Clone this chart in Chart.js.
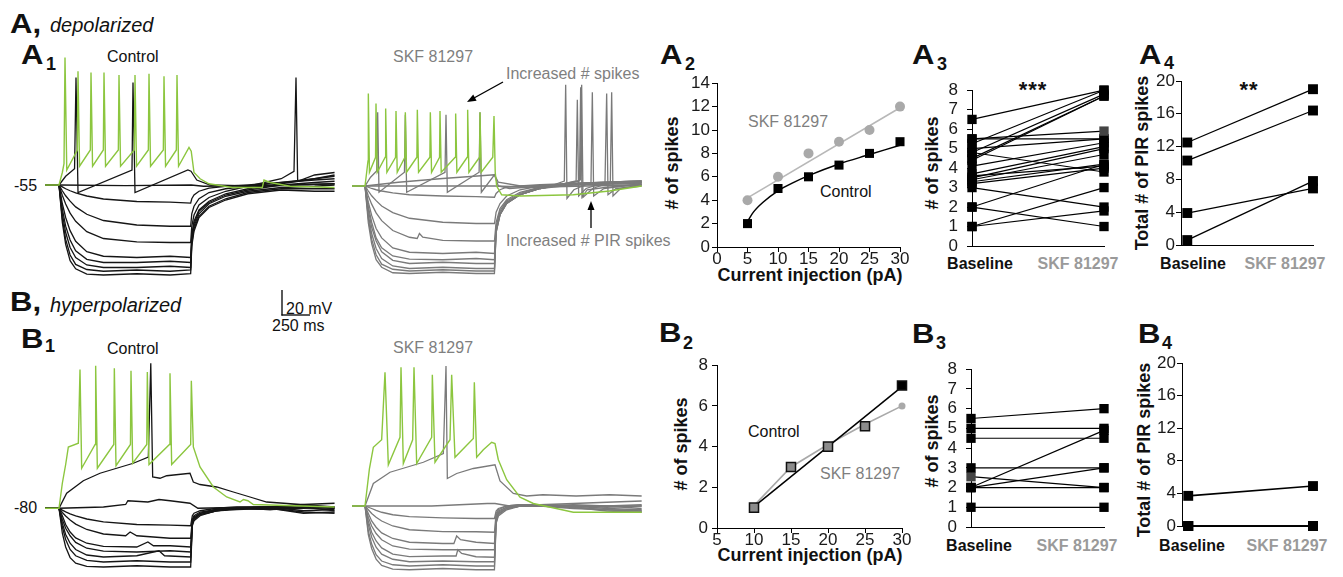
<!DOCTYPE html>
<html><head><meta charset="utf-8">
<script src="https://cdn.jsdelivr.net/npm/chart.js@4.4.0/dist/chart.umd.min.js"></script>
<style>
html,body{margin:0;padding:0;background:#fff;}
body{width:1343px;height:577px;position:relative;overflow:hidden;font-family:"Liberation Sans",Arial,sans-serif;}
.t{position:absolute;white-space:nowrap;line-height:1;color:#111;}
.b{font-weight:bold;}
.L{font-weight:bold;font-size:27px;transform:scaleX(1.15);transform-origin:0 0;}
.i{font-style:italic;}
.g{color:#7f7f7f;}
.gb{color:#9a9a9a;font-weight:bold;}
.c{transform:translateX(-50%);}
.r{transform:translate(-50%,-50%) rotate(-90deg);font-weight:bold;font-size:18px;}
canvas{position:absolute;}
svg{position:absolute;left:0;top:0;}
</style></head><body>

<div class="t L" style="left:10px;top:11px;">A,</div>
<div class="t i" style="left:50px;top:15px;font-size:20px;">depolarized</div>
<div class="t L" style="left:21px;top:42px;">A</div><div class="t b" style="left:46px;top:55px;font-size:18px;">1</div>
<div class="t" style="left:107px;top:49px;font-size:16px;">Control</div>
<div class="t g" style="left:393px;top:49px;font-size:16px;">SKF 81297</div>
<div class="t g" style="left:506px;top:66px;font-size:16px;">Increased # spikes</div>
<div class="t g" style="left:506px;top:233px;font-size:16px;">Increased # PIR spikes</div>
<div class="t" style="left:14px;top:178px;font-size:16px;">-55</div>

<div class="t L" style="left:10px;top:289px;">B,</div>
<div class="t i" style="left:50px;top:295px;font-size:20px;">hyperpolarized</div>
<div class="t L" style="left:21px;top:326px;">B</div><div class="t b" style="left:45px;top:337px;font-size:18px;">1</div>
<div class="t" style="left:107px;top:341px;font-size:16px;">Control</div>
<div class="t g" style="left:393px;top:340px;font-size:16px;">SKF 81297</div>
<div class="t" style="left:14px;top:500px;font-size:16px;">-80</div>
<div class="t" style="left:286px;top:301px;font-size:16px;">20 mV</div>
<div class="t" style="left:272px;top:318px;font-size:16px;">250 ms</div>

<div class="t L" style="left:660px;top:42px;">A</div><div class="t b" style="left:685px;top:55px;font-size:18px;">2</div>
<div class="t L" style="left:912px;top:42px;">A</div><div class="t b" style="left:937px;top:55px;font-size:18px;">3</div>
<div class="t L" style="left:1139px;top:42px;">A</div><div class="t b" style="left:1164px;top:54px;font-size:18px;">4</div>
<div class="t L" style="left:659px;top:320px;">B</div><div class="t b" style="left:683px;top:334px;font-size:18px;">2</div>
<div class="t L" style="left:912px;top:321px;">B</div><div class="t b" style="left:936px;top:334px;font-size:18px;">3</div>
<div class="t L" style="left:1138px;top:321px;">B</div><div class="t b" style="left:1162px;top:334px;font-size:18px;">4</div>

<div class="t g" style="left:748px;top:114px;font-size:16px;">SKF 81297</div>
<div class="t" style="left:820px;top:184px;font-size:16px;">Control</div>
<div class="t" style="left:748px;top:424px;font-size:16px;">Control</div>
<div class="t g" style="left:820px;top:466px;font-size:16px;">SKF 81297</div>

<div class="t b c" style="left:810px;top:266px;font-size:18px;">Current injection (pA)</div>
<div class="t b c" style="left:810px;top:546px;font-size:18px;">Current injection (pA)</div>
<div class="t r" style="left:672px;top:163px;"># of spikes</div>
<div class="t r" style="left:932px;top:163px;"># of spikes</div>
<div class="t r" style="left:1142px;top:163px;">Total # of PIR spikes</div>
<div class="t r" style="left:681px;top:444px;"># of spikes</div>
<div class="t r" style="left:932px;top:441px;"># of spikes</div>
<div class="t r" style="left:1144px;top:450px;">Total # of PIR spikes</div>

<div class="t b c" style="left:980px;top:256px;font-size:16px;">Baseline</div>
<div class="t gb c" style="left:1078px;top:256px;font-size:16px;">SKF 81297</div>
<div class="t b c" style="left:1193px;top:256px;font-size:16px;">Baseline</div>
<div class="t gb c" style="left:1285px;top:256px;font-size:16px;">SKF 81297</div>
<div class="t b c" style="left:979px;top:538px;font-size:16px;">Baseline</div>
<div class="t gb c" style="left:1077px;top:538px;font-size:16px;">SKF 81297</div>
<div class="t b c" style="left:1192px;top:538px;font-size:16px;">Baseline</div>
<div class="t gb c" style="left:1287px;top:538px;font-size:16px;">SKF 81297</div>
<div class="t b c" style="left:1033px;top:79px;font-size:22px;letter-spacing:1px;">***</div>
<div class="t b c" style="left:1249px;top:79px;font-size:22px;letter-spacing:1px;">**</div>

<svg width="1343" height="577" style="z-index:5;pointer-events:none;">
  <line x1="282" y1="290" x2="282" y2="315.5" stroke="#000" stroke-width="1.3"/>
  <line x1="281.4" y1="315" x2="310" y2="315" stroke="#000" stroke-width="1.3"/>
  <line x1="503" y1="82" x2="474" y2="98" stroke="#000" stroke-width="1.3"/>
  <polygon points="467,102 476.6,100.7 473.2,94.5" fill="#000"/>
  <line x1="591" y1="228" x2="591" y2="209" stroke="#000" stroke-width="1.3"/>
  <polygon points="591,201 587.5,210 594.5,210" fill="#000"/>
</svg>

<script>
// ---------------- DATA ----------------
// Trace data: flat arrays [t(ms), V(mV), t, V, ...]
// A1 control (baseline -55 mV)
const a1CtrlGreen = [-130,-55, 0,-55, 30,-45, 45,-38, 54,47, 70,-43, 165,-27, 171,36, 185,-40, 282,-27, 288,35, 302,-40, 399,-27, 405,35, 419,-40, 534,-27, 540,33, 554,-40, 678,-27, 684,33, 698,-40, 804,-27, 810,34, 824,-40, 939,-27, 945,32, 959,-40, 1056,-27, 1062,33, 1076,-40, 1170,-25, 1190,-28, 1215,-45, 1270,-50, 1350,-54, 1560,-57, 1830,-57, 1845,-51, 1900,-53, 2080,-56, 2480,-57];
const a1CtrlDep = [-130,-55, 0,-55, 60,-48, 140,-42, 153,31, 171,-61, 657,-43, 666,27, 684,-61, 1160,-43, 1188,-44, 1240,-51, 1360,-55, 1800,-56, 2480,-54];
const a1CtrlFlat = [-130,-55, 0,-55, 600,-55.5, 1190,-55, 1300,-56, 1800,-55.5, 2480,-54];
const a1CtrlHyp = [
 [-130,-55, 0,-55, 30,-56.5, 60,-58, 100,-59.6, 150,-61.3, 250,-63.8, 400,-66.2, 700,-68.2, 1000,-68.7, 1185,-69.5, 1195,-66, 1215,-63, 1260,-60, 1350,-57.5, 1500,-56, 1700,-55, 2000,-53, 2300,-51, 2480,-50],
 [-130,-55, 0,-55, 30,-59.6, 60,-63.6, 100,-67.9, 150,-72.5, 250,-78.4, 400,-83.4, 700,-87, 1000,-88, 1185,-88, 1195,-78, 1215,-72, 1260,-66, 1350,-61, 1500,-58, 1700,-56, 2000,-53, 2300,-50, 2480,-48],
 [-130,-55, 0,-55, 30,-63.3, 60,-70.2, 100,-77.5, 150,-84, 250,-92.3, 400,-97.8, 700,-100.5, 1000,-101, 1185,-101, 1195,-88, 1215,-79, 1260,-71, 1350,-65, 1500,-60, 1700,-56, 2000,-50, 2115,-44, 2133,31, 2148,-52, 2300,-47, 2480,-45],
 [-130,-55, 0,-55, 30,-70, 60,-81, 100,-91.5, 150,-100, 250,-108.4, 400,-112, 700,-113, 1000,-112, 1185,-113, 1195,-95, 1215,-84, 1260,-75, 1350,-68, 1500,-62, 1700,-58, 2000,-54, 2300,-50, 2480,-47],
 [-130,-55, 0,-55, 30,-74.2, 60,-87.9, 100,-99, 150,-107.7, 250,-114.5, 400,-117, 700,-117, 1000,-116, 1185,-117, 1195,-97, 1215,-86, 1260,-76, 1350,-69, 1500,-63, 1700,-59, 2000,-55, 2300,-53, 2480,-52],
 [-130,-55, 0,-55, 30,-78, 60,-93, 100,-105, 150,-113, 250,-119, 400,-121, 700,-121, 1000,-120, 1185,-121, 1195,-100, 1215,-88, 1260,-78, 1350,-70, 1500,-64, 1700,-60, 2000,-57, 2300,-56, 2480,-55],
 [-130,-55, 0,-55, 30,-82, 60,-98.5, 100,-111, 150,-118.5, 250,-122.6, 400,-124, 700,-123, 1000,-124, 1185,-123, 1195,-102, 1215,-90, 1260,-80, 1350,-72, 1500,-66, 1700,-61, 2000,-58, 2300,-58, 2480,-58],
 [-130,-55, 0,-55, 30,-85, 60,-102.5, 100,-115.5, 150,-122, 250,-126.3, 400,-127, 700,-126, 1000,-127, 1185,-126, 1195,-104, 1215,-92, 1260,-81, 1350,-73, 1500,-67, 1700,-62, 2000,-59, 2300,-60, 2480,-60]
];
// A1 SKF 81297
const a1SkfGreen = [-120,-55, 0,-55, 15,-44, 27,-35, 30,19, 40,-44, 95,-32, 99,11, 110,-44, 182,-32, 186,7, 197,-44, 275,-32, 279,5, 290,-44, 359,-32, 363,4, 374,-44, 467,-32, 471,6, 482,-44, 584,-32, 588,4, 599,-44, 671,-32, 675,5, 686,-44, 812,-32, 816,3, 827,-44, 920,-32, 924,6, 935,-44, 1031,-32, 1035,4, 1046,-44, 1150,-32, 1161,1, 1172,-44, 1185,-55, 1230,-62, 1400,-63, 1875,-62, 2200,-59, 2490,-55];
const a1SkfDep = [-120,-55, 0,-55, 50,-48, 105,-43, 114,4, 126,-60, 355,-44, 363,2, 375,-60, 720,-44, 729,2, 741,-60, 1027,-44, 1035,4, 1047,-60, 1165,-46, 1200,-55, 1300,-57, 1600,-55, 2000,-53, 2490,-52];
const a1SkfSub = [-120,-55, 0,-55, 300,-52, 700,-49, 1165,-46, 1200,-52, 1400,-55, 2490,-53];
const a1SkfFlat = [-120,-55, 0,-55, 1170,-55, 1500,-56, 2490,-54];
const a1SkfHyp = [
 [-120,-55, 0,-55, 30,-56, 60,-57, 100,-58, 150,-59, 250,-60.5, 400,-62, 700,-63, 1000,-63.5, 1165,-64, 1180,-61, 1215,-58, 1275,-56, 1395,-55, 1575,-54, 1875,-53, 2175,-52, 2490,-51],
 [-120,-55, 0,-55, 30,-59, 60,-62.8, 100,-66.7, 150,-71, 250,-76.3, 400,-80.8, 700,-84, 1000,-85, 1165,-85, 1180,-76, 1215,-69, 1275,-63, 1395,-58, 1575,-55, 1875,-53, 2175,-52, 2490,-51],
 [-120,-55, 0,-55, 30,-63, 60,-69.5, 100,-76.5, 150,-82.7, 250,-90.6, 400,-96, 470,-97, 490,-93, 520,-96, 700,-98.5, 1000,-99, 1165,-99, 1180,-84, 1215,-73, 1275,-66, 1395,-60, 1575,-56, 1875,-54, 2175,-53, 2490,-52],
 [-120,-55, 0,-55, 30,-68, 60,-78.5, 100,-89, 150,-96.5, 250,-104.6, 400,-108, 700,-109, 1000,-108, 1165,-109, 1180,-87, 1215,-75, 1275,-67, 1395,-61, 1575,-56, 1875,-53, 2175,-52, 2490,-51],
 [-120,-55, 0,-55, 30,-71.5, 60,-84, 100,-96.5, 150,-104.5, 250,-111, 400,-113.5, 700,-114, 1000,-113, 1165,-114, 1180,-89, 1215,-77, 1275,-68, 1395,-62, 1575,-57, 1875,-54, 2175,-53, 2490,-52],
 [-120,-55, 0,-55, 30,-74, 60,-88, 100,-99, 150,-107.7, 250,-114.5, 400,-117, 700,-116, 1000,-117, 1165,-117, 1180,-90, 1215,-77, 1275,-68, 1395,-62, 1575,-57, 1800,-53, 1930,-51, 1941,24, 1953,-64, 2000,-58, 2175,-56, 2490,-54],
 [-120,-55, 0,-55, 30,-78, 60,-93, 100,-105, 150,-113, 250,-119, 400,-121, 700,-120, 1000,-121, 1165,-121, 1180,-91, 1215,-78, 1275,-69, 1395,-62, 1575,-57, 1800,-53, 1900,-51, 1911,14, 1923,-63, 1990,-57, 2160,-52, 2175,19, 2187,-62, 2260,-57, 2490,-55],
 [-120,-55, 0,-55, 30,-81, 60,-97.5, 100,-110, 150,-117.5, 250,-121.6, 400,-123, 700,-122, 1000,-123, 1165,-123, 1180,-92, 1215,-78, 1275,-69, 1395,-62, 1575,-57, 1850,-53, 1938,-50, 1950,26, 1962,-64, 2050,-57, 2208,-52, 2220,20, 2232,-63, 2300,-57, 2490,-54],
 [-120,-55, 0,-55, 30,-84.5, 60,-101, 100,-114, 150,-120, 250,-124.4, 400,-125, 700,-124, 1000,-125, 1165,-125, 1180,-92, 1215,-78, 1275,-69, 1395,-62, 1575,-57, 1700,-54, 1794,-51, 1806,26, 1818,-65, 1880,-58, 2034,-52, 2046,20, 2058,-63, 2150,-57, 2490,-53]
];
// B1 control (baseline -80 mV)
const b1CtrlGreen = [-130,-80, 0,-80, 30,-60, 60,-45, 84,-31, 174,-28, 189,31, 204,-48, 325,-29, 330,34, 345,-48, 493,-29, 498,32, 513,-46, 643,-29, 648,30, 663,-44, 790,-29, 795,29, 810,-45, 994,-29, 999,28, 1014,-45, 1185,-29, 1191,22, 1209,-31, 1269,-47, 1389,-63, 1509,-71, 1629,-75, 1660,-73, 1700,-74, 1749,-77, 2480,-79];
const b1CtrlDep = [-130,-80, 0,-80, 69,-68, 219,-58, 369,-52, 519,-48, 669,-44, 804,-39, 826,36, 843,-55, 909,-56, 969,-54, 1179,-52, 1209,-59, 1269,-61, 1419,-63, 1569,-67, 1719,-71, 1869,-75, 2480,-79];
const b1CtrlFlat = [-130,-80, 0,-80, 400,-79, 600,-77, 620,-74, 800,-75, 900,-73, 1000,-74, 1179,-76, 1250,-80, 1800,-79, 2480,-80];
const b1CtrlHyp = [
 [-130,-80, 0,-80, 30,-81.5, 60,-82.9, 100,-84.5, 150,-86.1, 250,-88.6, 400,-90.9, 700,-93, 1000,-93.5, 1185,-94, 1200,-86, 1215,-84, 1270,-82, 1420,-80, 1600,-79, 1900,-79, 2200,-77, 2480,-76],
 [-130,-80, 0,-80, 30,-83.4, 60,-86.2, 100,-89.4, 150,-92.7, 250,-97, 400,-100.6, 600,-102, 640,-99, 700,-102, 1000,-104, 1185,-104, 1200,-89, 1215,-86, 1270,-83, 1420,-81, 1600,-80, 1900,-79, 2200,-82, 2480,-81],
 [-130,-80, 0,-80, 30,-86, 60,-93, 100,-99, 150,-103.7, 250,-108, 400,-110.5, 700,-111, 800,-107, 850,-110, 1000,-110, 1185,-111, 1200,-90, 1215,-87, 1270,-84, 1420,-81, 1600,-80, 1900,-81, 2200,-80, 2480,-79],
 [-130,-80, 0,-80, 30,-89, 60,-96, 100,-102, 150,-107.3, 250,-112, 400,-114.3, 700,-115, 1000,-114, 1185,-115, 1200,-91, 1215,-88, 1270,-84, 1420,-81, 1600,-80, 1900,-80, 2200,-84, 2480,-83],
 [-130,-80, 0,-80, 30,-92, 60,-101, 100,-108, 150,-113, 250,-117.4, 400,-119, 700,-118, 900,-114, 950,-118, 1185,-119, 1200,-92, 1215,-88, 1270,-85, 1420,-82, 1600,-80, 1900,-79, 2200,-78, 2480,-80],
 [-130,-80, 0,-80, 30,-95, 60,-105, 100,-113, 150,-118, 250,-121.7, 400,-123, 700,-122, 1000,-123, 1185,-123, 1200,-93, 1215,-89, 1270,-85, 1420,-82, 1600,-80, 1900,-81, 2200,-79, 2480,-82],
 [-130,-80, 0,-80, 30,-100, 60,-111, 100,-119.5, 150,-124, 250,-126.5, 400,-127, 700,-126, 1000,-127, 1185,-127, 1200,-94, 1215,-90, 1270,-86, 1420,-82, 1600,-81, 1900,-80, 2200,-83, 2480,-84]
];
// B1 SKF 81297
const b1SkfGreen = [-120,-80, 0,-80, 40,-50, 75,-33, 150,-27, 180,27, 210,-47, 315,-25, 324,31, 345,-46, 429,-27, 441,31, 465,-46, 600,-25, 606,25, 630,-45, 765,-27, 780,25, 810,-41, 975,-26, 984,19, 1005,-41, 1065,-35, 1140,-29, 1170,-30, 1200,-43, 1275,-59, 1395,-73, 1515,-78, 1875,-85, 2490,-85];
const b1SkfDep = [-120,-80, 0,-80, 75,-62, 225,-53, 375,-49, 525,-45, 705,-38, 729,32, 741,-58, 825,-54, 975,-50, 1170,-47, 1215,-60, 1335,-70, 1455,-72, 1600,-71, 1900,-72, 2200,-71, 2490,-72];
const b1SkfFlat = [-120,-80, 0,-80, 600,-80, 1100,-78, 1170,-78, 1300,-80, 2490,-80];
const b1SkfHyp = [
 [-120,-80, 0,-80, 30,-81, 60,-82, 100,-83.5, 150,-85, 250,-87, 400,-88.5, 700,-89.5, 1000,-90, 1165,-90, 1180,-84, 1200,-82, 1275,-80, 1395,-79, 1575,-79, 1875,-78, 2175,-77, 2490,-76],
 [-120,-80, 0,-80, 30,-83, 60,-86, 100,-89, 150,-92, 250,-96, 400,-99, 700,-100.5, 1000,-100.6, 1165,-101, 1180,-86, 1200,-83, 1275,-80, 1395,-79, 1575,-80, 1875,-79, 2175,-80, 2490,-79],
 [-120,-80, 0,-80, 30,-86, 60,-92, 100,-97, 150,-101.5, 250,-106, 400,-109, 700,-110, 800,-110, 825,-104, 860,-107, 1000,-109, 1165,-110, 1180,-88, 1200,-84, 1275,-81, 1395,-80, 1575,-79, 1875,-80, 2175,-81, 2490,-80],
 [-120,-80, 0,-80, 30,-89, 60,-96, 100,-102, 150,-107, 250,-112, 400,-114.5, 700,-115, 1000,-115, 1165,-115, 1180,-90, 1200,-85, 1275,-81, 1395,-79, 1575,-80, 1875,-81, 2175,-80, 2490,-82],
 [-120,-80, 0,-80, 30,-92, 60,-101, 100,-108, 150,-113.5, 250,-118.5, 400,-120.5, 700,-120, 820,-120, 835,-115, 870,-118, 1000,-120.6, 1165,-121, 1180,-91, 1200,-86, 1275,-82, 1395,-80, 1575,-79, 1875,-80, 2175,-82, 2490,-83],
 [-120,-80, 0,-80, 30,-95, 60,-105, 100,-113, 150,-118.5, 250,-122.6, 400,-124.6, 700,-124, 1000,-124.6, 1165,-124.6, 1180,-92, 1200,-86, 1275,-82, 1395,-80, 1575,-79, 1875,-81, 2175,-83, 2490,-84],
 [-120,-80, 0,-80, 30,-100, 60,-110.5, 100,-119, 150,-124, 250,-127, 400,-128, 700,-127, 1000,-128, 1165,-128, 1180,-93, 1200,-87, 1275,-82, 1395,-80, 1575,-80, 1875,-81, 2175,-84, 2490,-85],
 [-120,-80, 0,-80, 30,-103, 60,-114, 100,-122.5, 150,-127.5, 250,-130.5, 400,-131, 700,-130, 1000,-131, 1165,-131, 1180,-94, 1200,-88, 1275,-83, 1395,-80, 1575,-80, 1875,-82, 2175,-83, 2490,-84]
];

// A2: spikes vs current (depolarized)
const a2Current = [5, 10, 15, 20, 25, 30];
const a2Skf = [4, 6, 8, 9, 10, 12];
const a2Ctrl = [2, 5, 6, 7, 8, 9];
const a2SkfFitX = [5, 30], a2SkfFitY = [4.2, 11.9];
const a2CtrlFitX = [5, 6, 7.5, 10, 12.5, 15, 20, 25, 30];
const a2CtrlFitY = [2.2, 3.0, 3.8, 4.8, 5.5, 6.1, 7.1, 7.9, 8.7];
// A3: # spikes, baseline -> SKF (per cell)
const a3Base = [6.5, 5.25, 4.8, 4.5, 4.4, 5.5, 5.5, 5.0, 4.8, 4.1, 3.7, 3.5, 3.4, 3.3, 3.6, 3.2, 3.0, 2.0, 2.0, 1.0, 1.0];
const a3Skf  = [8.0, 8.0, 7.8, 7.7, 7.7, 5.9, 5.5, 5.5, 3.8, 5.3, 5.1, 5.0, 4.7, 4.2, 4.1, 4.0, 2.0, 4.2, 1.0, 3.0, 1.8];
// A4: total PIR spikes
const a4Base = [12.5, 10.3, 3.9, 0.6];
const a4Skf  = [19, 16.4, 6.9, 7.8];
// B2
const b2Current = [10, 15, 20, 25, 30];
const b2Ctrl = [1, 3, 4, 5, 7];
const b2Skf = [1.1, 3, 4.1, 5.1, 6];
const b2CtrlFitX = [10, 30], b2CtrlFitY = [1.05, 6.95];
// B3
const b3Base = [5.5, 5, 4.5, 3, 2, 2, 2.55, 2, 1];
const b3Skf  = [6, 5, 4.5, 3, 4.9, 3, 2, 2, 1];
// B4
const b4Base = [3.7, 0, 0, 0];
const b4Skf  = [4.9, 0, 0, 0];

// ---------------- DRAWING ----------------
const FONT = '"Liberation Sans", Arial, sans-serif';
Chart.defaults.font.family = FONT;
const BLACK = '#151515', GRAY = '#7a7a7a', GREEN = '#8cc63f';
const PX_MS = 9, PX_MV = 0.8;

function pts(a) { const r = []; for (let i = 0; i < a.length; i += 2) r.push({x: a[i], y: a[i + 1]}); return r; }
function xy(xs, ys) { return xs.map((x, i) => ({x: x, y: ys[i]})); }

function tracePanel(p) {
  const cv = document.createElement('canvas');
  cv.width = p.w; cv.height = p.h;
  cv.style.left = p.left + 'px'; cv.style.top = p.top + 'px';
  document.body.appendChild(cv);
  const ds = p.traces.map(tr => ({data: pts(tr.d), borderColor: tr.c, borderWidth: tr.lw || 1.3,
    pointRadius: 0, showLine: true, tension: 0, fill: false}));
  new Chart(cv, {type: 'scatter', data: {datasets: ds}, options: {
    responsive: false, animation: false, events: [],
    plugins: {legend: {display: false}, tooltip: {enabled: false}},
    layout: {padding: 0},
    scales: {
      x: {type: 'linear', display: false, min: p.xmin, max: p.xmin + p.w * PX_MS},
      y: {type: 'linear', display: false, min: p.ymax - p.h * PX_MV, max: p.ymax}
    }}});
}

function group(list, c) { return list.map(d => ({d: d, c: c})); }

tracePanel({left: 45, top: 50, w: 290, h: 240, xmin: -126, ymax: 53,
  traces: [{d: a1CtrlGreen, c: GREEN, lw: 1.4}, {d: a1CtrlDep, c: BLACK}, {d: a1CtrlFlat, c: BLACK}].concat(group(a1CtrlHyp, BLACK))});
tracePanel({left: 352, top: 50, w: 290, h: 240, xmin: -117, ymax: 53.8,
  traces: [{d: a1SkfGreen, c: GREEN, lw: 1.4}, {d: a1SkfDep, c: GRAY}, {d: a1SkfSub, c: GRAY}, {d: a1SkfFlat, c: GRAY}].concat(group(a1SkfHyp, GRAY))});
tracePanel({left: 45, top: 355, w: 290, h: 222, xmin: -126, ymax: 42.6,
  traces: [{d: b1CtrlGreen, c: GREEN, lw: 1.4}, {d: b1CtrlDep, c: BLACK}, {d: b1CtrlFlat, c: BLACK}].concat(group(b1CtrlHyp, BLACK))});
tracePanel({left: 352, top: 355, w: 290, h: 222, xmin: -117, ymax: 40.8,
  traces: [{d: b1SkfGreen, c: GREEN, lw: 1.4}, {d: b1SkfDep, c: GRAY}, {d: b1SkfFlat, c: GRAY}].concat(group(b1SkfHyp, GRAY))});

function smallChart(area, cfg) {
  const padT = 12, padR = 16, wy = 50, hx = 32;
  const cv = document.createElement('canvas');
  const W = wy + (area.R - area.L) + padR, H = padT + (area.B - area.T) + hx;
  cv.width = W; cv.height = H;
  cv.style.left = (area.L - wy) + 'px'; cv.style.top = (area.T - padT) + 'px';
  document.body.appendChild(cv);
  const tickFont = {size: 17, family: FONT};
  const xs = {type: 'linear', min: cfg.xmin, max: cfg.xmax,
    afterFit: s => { s.height = hx; },
    border: {display: true, color: '#000', width: 1},
    grid: {display: !!cfg.xStep, drawOnChartArea: false, drawTicks: true, tickLength: 5, color: '#000'},
    ticks: cfg.xStep ? {stepSize: cfg.xStep, autoSkip: false, color: '#1a1a1a', font: tickFont, padding: -3, maxRotation: 0}
                     : {display: false}};
  const ys = {type: 'linear', min: cfg.ymin, max: cfg.ymax,
    afterFit: s => { s.width = wy; },
    border: {display: true, color: '#000', width: 1},
    grid: {display: true, drawOnChartArea: false, drawTicks: true, tickLength: 5, color: '#000'},
    ticks: {stepSize: cfg.yStep, autoSkip: false, color: '#1a1a1a', font: tickFont, padding: cfg.yPad}};
  new Chart(cv, {type: 'scatter', data: {datasets: cfg.datasets}, options: {
    responsive: false, animation: false, events: [],
    layout: {padding: {left: 0, right: padR, top: padT, bottom: 0}},
    plugins: {legend: {display: false}, tooltip: {enabled: false}},
    scales: {x: xs, y: ys}}});
}

function lineDs(data, color, width, extra) {
  return Object.assign({data: data, showLine: true, borderColor: color, borderWidth: width, pointRadius: 0, fill: false, tension: 0, clip: false}, extra || {});
}
function markDs(data, style, r, bg, border, bw) {
  return {data: data, showLine: false, pointStyle: style, pointRadius: r, pointBackgroundColor: bg,
    pointBorderColor: border, pointBorderWidth: bw, clip: false};
}
function pairDatasets(base, skf, x0, x1, r, lw) {
  return base.map((b, i) => ({data: [{x: x0, y: b}, {x: x1, y: skf[i]}], showLine: true, borderColor: '#000',
    borderWidth: lw, pointStyle: 'rect', pointRadius: r, pointBackgroundColor: '#000', pointBorderColor: '#000',
    pointBorderWidth: 0, clip: false, tension: 0}));
}

// A2
smallChart({L: 717, R: 900, T: 83, B: 247}, {xmin: 0, xmax: 30, xStep: 5, ymin: 0, ymax: 14, yStep: 2, yPad: 2,
  datasets: [
    markDs(xy(a2Current, a2Ctrl), 'rect', 6.4, '#000', '#000', 0),
    markDs(xy(a2Current, a2Skf), 'circle', 5, '#a9a9a9', '#a9a9a9', 0),
    lineDs(xy(a2CtrlFitX, a2CtrlFitY), '#000', 1.5, {cubicInterpolationMode: 'monotone'}),
    lineDs(xy(a2SkfFitX, a2SkfFitY), '#b8b8b8', 1.6)
  ]});
// A3
smallChart({L: 972, R: 1104, T: 83, B: 246}, {xmin: 0, xmax: 1, ymin: 0, ymax: 8, yStep: 1, yPad: 9,
  datasets: pairDatasets(a3Base, a3Skf, 0, 1, 6.6, 1.2).map((d, i) => {
    if (i === 5) { d.pointBackgroundColor = ['#000', '#444']; d.pointBorderColor = ['#000', '#444']; }
    return d; })});
// A4
smallChart({L: 1181, R: 1313, T: 81, B: 245}, {xmin: -0.05, xmax: 1, ymin: 0, ymax: 20, yStep: 4, yPad: 1,
  datasets: pairDatasets(a4Base, a4Skf, 0, 1, 7, 1.3)});
// B2
smallChart({L: 717, R: 902, T: 363, B: 528}, {xmin: 5, xmax: 30, xStep: 5, ymin: 0, ymax: 8, yStep: 2, yPad: 4,
  datasets: [
    markDs(xy(b2Current, b2Ctrl), 'rect', 6.4, ['#8c8c8c', '#8c8c8c', '#8c8c8c', '#8c8c8c', '#000'], '#111', 1.5),
    markDs([{x: b2Current[4], y: b2Skf[4]}], 'circle', 3.5, '#a9a9a9', '#a9a9a9', 0),
    lineDs(xy(b2CtrlFitX, b2CtrlFitY), '#000', 1.5),
    lineDs(xy(b2Current, b2Skf), '#a9a9a9', 1.6)
  ]});
// B3
smallChart({L: 971, R: 1104, T: 362, B: 527}, {xmin: 0, xmax: 1, ymin: 0, ymax: 8, yStep: 1, yPad: 9,
  datasets: pairDatasets(b3Base, b3Skf, 0, 1, 6.6, 1.2).map((d, i) => {
    if (b3Base[i] === 2.55) { d.pointBackgroundColor = ['#444', '#000']; }
    return d; })});
// B4
smallChart({L: 1182, R: 1313, T: 363, B: 526}, {xmin: -0.05, xmax: 1, ymin: 0, ymax: 20, yStep: 4, yPad: 1,
  datasets: pairDatasets(b4Base, b4Skf, 0, 1, 7, 1.6)});
</script>
</body></html>
